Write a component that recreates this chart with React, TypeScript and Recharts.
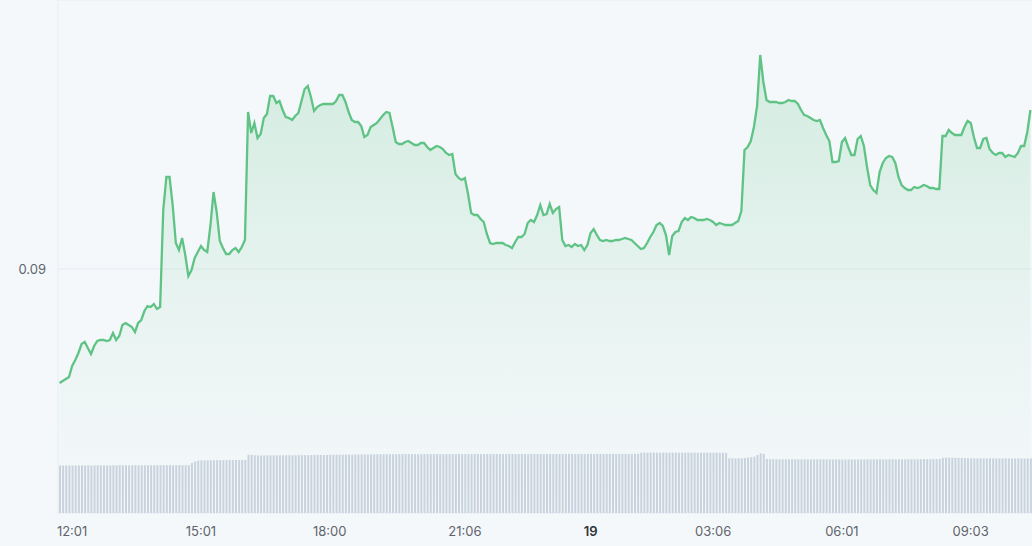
import React from "react";
import { ComposedChart, Area, Bar, XAxis, YAxis, CartesianGrid } from "recharts";

// price per 5-minute candle
const prices = [
  0.08772, 0.08776, 0.0878, 0.08784, 0.08806, 0.08818, 0.08832, 0.0885, 0.08854, 0.08842,
  0.0883, 0.08846, 0.08856, 0.08858, 0.08858, 0.08856, 0.08858, 0.08872, 0.08858, 0.08866,
  0.08888, 0.08892, 0.08888, 0.08884, 0.08874, 0.08892, 0.08898, 0.08916, 0.08926, 0.08924,
  0.0893, 0.0892, 0.08924, 0.09118, 0.09184, 0.09184, 0.09128, 0.09052, 0.09038, 0.09062,
  0.09028, 0.08986, 0.08998, 0.09022, 0.09034, 0.09046, 0.09038, 0.09034, 0.09086, 0.09154,
  0.09114, 0.09056, 0.09042, 0.0903, 0.0903, 0.09038, 0.09042, 0.09034, 0.09044, 0.09058,
  0.09314, 0.09272, 0.09292, 0.09262, 0.0927, 0.09302, 0.0931, 0.09346, 0.09346, 0.09332,
  0.09336, 0.09318, 0.09304, 0.09302, 0.09298, 0.09306, 0.09312, 0.09336, 0.0936, 0.09366,
  0.09344, 0.09316, 0.09324, 0.09328, 0.0933, 0.0933, 0.0933, 0.0933, 0.09336, 0.09348,
  0.09348, 0.09334, 0.09314, 0.09298, 0.09294, 0.09294, 0.09286, 0.09264, 0.09268, 0.09284,
  0.09288, 0.09292, 0.093, 0.09308, 0.09314, 0.09312, 0.09284, 0.09254, 0.0925, 0.0925,
  0.09254, 0.09256, 0.09252, 0.09248, 0.09248, 0.09252, 0.09252, 0.09244, 0.09238, 0.09242,
  0.09246, 0.09244, 0.0924, 0.09232, 0.09228, 0.0923, 0.0919, 0.09182, 0.09178, 0.09182,
  0.0915, 0.09112, 0.09108, 0.09108, 0.091, 0.09094, 0.0907, 0.09052, 0.0905, 0.09052,
  0.09052, 0.09052, 0.09048, 0.09046, 0.09042, 0.09054, 0.09064, 0.09064, 0.0907, 0.09092,
  0.09098, 0.09094, 0.09108, 0.09128, 0.09108, 0.0911, 0.0913, 0.09112, 0.0912, 0.09124,
  0.09058, 0.09046, 0.09048, 0.09044, 0.0905, 0.09046, 0.09048, 0.09038, 0.09048, 0.09072,
  0.0908, 0.09068, 0.09058, 0.09056, 0.09058, 0.09056, 0.09056, 0.09058, 0.09058, 0.0906,
  0.09062, 0.0906, 0.09058, 0.09052, 0.09046, 0.0904, 0.09042, 0.09052, 0.09064, 0.09074,
  0.09088, 0.09092, 0.09086, 0.09068, 0.09028, 0.09066, 0.09074, 0.09076, 0.09094, 0.09102,
  0.09098, 0.09104, 0.09102, 0.09098, 0.09098, 0.09098, 0.091, 0.09098, 0.09094, 0.09088,
  0.09092, 0.0909, 0.09088, 0.09088, 0.09088, 0.09092, 0.09096, 0.09116, 0.09238, 0.09244,
  0.09256, 0.09284, 0.09326, 0.09428, 0.09374, 0.09338, 0.09334, 0.09334, 0.09334, 0.09332,
  0.09332, 0.09334, 0.09338, 0.09336, 0.09336, 0.0933, 0.09318, 0.09308, 0.09306, 0.09302,
  0.09298, 0.09296, 0.09298, 0.09282, 0.09268, 0.09256, 0.09214, 0.09214, 0.09216, 0.09254,
  0.09262, 0.09244, 0.09228, 0.09228, 0.0926, 0.09266, 0.09246, 0.09204, 0.09168, 0.09158,
  0.09152, 0.09194, 0.09212, 0.09222, 0.09226, 0.09224, 0.09212, 0.09184, 0.09168, 0.09162,
  0.09158, 0.09158, 0.09164, 0.09162, 0.09164, 0.09168, 0.09166, 0.09162, 0.09162, 0.0916,
  0.0916, 0.09266, 0.09266, 0.09278, 0.09272, 0.09268, 0.09268, 0.09268, 0.09284, 0.09296,
  0.09292, 0.09264, 0.09242, 0.09242, 0.0926, 0.09262, 0.0924, 0.09232, 0.09228, 0.09232,
  0.09232, 0.09224, 0.09228, 0.09226, 0.09224, 0.09232, 0.09246, 0.09246, 0.09274, 0.09318,
];

// volume (thousands) per candle
const volumes = [
  474, 475, 475, 476, 475, 474, 475, 476, 476, 475,
  475, 476, 477, 476, 476, 475, 476, 477, 477, 478,
  477, 477, 476, 477, 478, 478, 477, 478, 478, 477,
  478, 478, 479, 478, 478, 479, 478, 478, 479, 479,
  478, 479, 500, 515, 524, 526, 527, 527, 528, 527,
  528, 529, 528, 529, 530, 529, 530, 530, 531, 530,
  582, 581, 578, 576, 575, 575, 576, 576, 577, 576,
  577, 577, 578, 578, 577, 578, 579, 578, 579, 579,
  580, 580, 581, 581, 580, 581, 582, 582, 583, 583,
  584, 584, 584, 585, 585, 586, 586, 586, 587, 587,
  587, 587, 588, 588, 588, 588, 587, 588, 588, 589,
  588, 588, 589, 589, 588, 588, 589, 589, 589, 588,
  589, 589, 588, 589, 589, 589, 590, 589, 589, 590,
  589, 589, 590, 590, 589, 590, 590, 589, 590, 590,
  590, 589, 590, 590, 590, 589, 590, 591, 590, 590,
  590, 590, 589, 590, 590, 591, 590, 590, 590, 589,
  590, 590, 591, 591, 590, 590, 591, 590, 591, 591,
  590, 591, 591, 590, 591, 591, 592, 591, 591, 591,
  592, 591, 591, 592, 592, 602, 603, 603, 603, 604,
  603, 603, 604, 604, 603, 604, 604, 603, 603, 604,
  604, 603, 603, 602, 603, 603, 603, 602, 603, 603,
  602, 603, 602, 547, 547, 546, 547, 548, 550, 555,
  558, 563, 580, 597, 590, 540, 539, 539, 538, 538,
  538, 537, 537, 538, 538, 537, 537, 536, 537, 537,
  536, 536, 537, 537, 536, 536, 535, 536, 536, 535,
  535, 536, 536, 535, 535, 536, 536, 535, 536, 536,
  536, 537, 537, 536, 536, 537, 537, 538, 537, 537,
  538, 538, 537, 538, 538, 539, 538, 538, 539, 539,
  540, 552, 553, 553, 553, 552, 551, 550, 549, 548,
  547, 547, 546, 546, 546, 545, 546, 546, 545, 545,
  545, 546, 546, 545, 545, 546, 546, 545, 545, 546,
];

const tickIndexes = [4, 45, 86, 129, 169, 208, 249, 290];
const tickLabels = ["12:01", "15:01", "18:00", "21:06", "19", "03:06", "06:01", "09:03"];
const dayLabel = "19";
const priceTicks = [0.09];

const data = prices.map((price, i) => ({ i, price, volume: volumes[i] }));

const TimeTick = ({ x, y, payload }: any) => {
  const idx = tickIndexes.indexOf(payload.value);
  const label = idx >= 0 ? tickLabels[idx] : "";
  const isDay = label === dayLabel;
  return (
    <text
      x={x}
      y={y}
      dy="0.71em"
      textAnchor="middle"
      fontSize={13}
      fill={isDay ? "#2f3338" : "#5f646c"}
      fontWeight={isDay ? 600 : 400}
    >
      {label}
    </text>
  );
};

export default function App() {
  return (
    <div
      style={{
        position: "absolute",
        left: 0,
        top: 0,
        width: 1032,
        height: 546,
        background: "#f5f8fb",
        fontFamily: "Inter, sans-serif",
      }}
    >
      <ComposedChart
        width={1032}
        height={546}
        data={data}
        margin={{ top: 0, right: 0, bottom: 0, left: 0 }}
      >
        <defs>
          <linearGradient id="priceFill" x1="0" y1="0" x2="0" y2="1">
            <stop offset="0%" stopColor="#5ec384" stopOpacity={0.38} />
            <stop offset="55%" stopColor="#5ec384" stopOpacity={0.14} />
            <stop offset="100%" stopColor="#5ec384" stopOpacity={0} />
          </linearGradient>
        </defs>
        <CartesianGrid yAxisId="price" vertical={false} stroke="#e7ecf1" />
        <XAxis
          dataKey="i"
          ticks={tickIndexes}
          interval={0}
          tick={<TimeTick />}
          tickLine={false}
          axisLine={false}
          tickSize={0}
          tickMargin={14}
          height={33}
        />
        <YAxis
          yAxisId="price"
          domain={[0.08512, 0.09538]}
          ticks={priceTicks}
          width={58}
          axisLine={{ stroke: "#e7ecf1" }}
          tickLine={false}
          tickSize={0}
          tickMargin={12}
          tick={{ fill: "#5f646c", fontSize: 13 }}
          tickFormatter={(v: number) => v.toFixed(2)}
        />
        <YAxis yAxisId="volume" hide domain={[0, 5130]} />
        <Bar
          yAxisId="volume"
          dataKey="volume"
          fill="#c9d3de"
          barSize={2}
          isAnimationActive={false}
        />
        <Area
          yAxisId="price"
          dataKey="price"
          type="linear"
          stroke="#5ec384"
          strokeWidth={2.3}
          fill="url(#priceFill)"
          dot={false}
          activeDot={false}
          isAnimationActive={false}
        />
      </ComposedChart>
    </div>
  );
}
